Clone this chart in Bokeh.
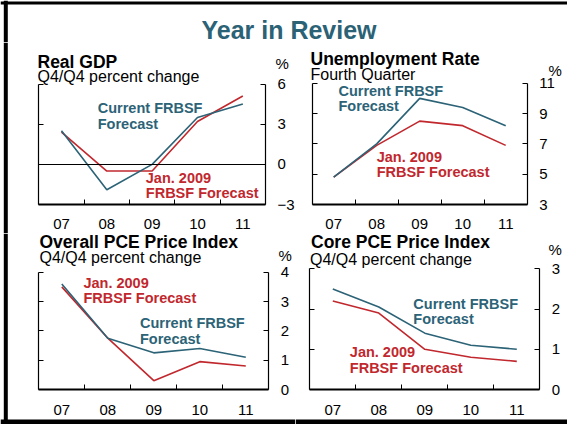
from bokeh.plotting import figure
from bokeh.layouts import column, row
from bokeh.models import LinearAxis, FixedTicker, Range1d, Label, BoxAnnotation
from bokeh.embed import file_html
from bokeh.resources import INLINE

# ---------------- data ----------------
years = ["07", "08", "09", "10", "11"]

gdp_current = [2.5, -1.9, 0.0, 3.5, 4.5]
gdp_jan2009 = [2.4, -0.5, -0.5, 3.2, 5.1]
gdp_ticks = [-3, 0, 3, 6]

unemp_current = [4.8, 7.0, 10.0, 9.4, 8.2]
unemp_jan2009 = [4.8, 6.9, 8.5, 8.2, 6.9]
unemp_ticks = [3, 5, 7, 9, 11]

pce_current = [3.6, 1.75, 1.25, 1.4, 1.1]
pce_jan2009 = [3.5, 1.75, 0.3, 0.95, 0.8]
pce_ticks = [0, 1, 2, 3, 4]

core_current = [2.5, 2.05, 1.4, 1.1, 1.0]
core_jan2009 = [2.2, 1.9, 1.0, 0.8, 0.7]
core_ticks = [0, 1, 2, 3]

CUR = ["Current FRBSF", "Forecast"]
JAN = ["Jan. 2009", "FRBSF Forecast"]

TEAL = "#2c6377"
RED = "#c1282e"
TITLE_C = "#2b6275"
FONT = "Liberation Sans"
LIFT = 0.32  # em; compensates the label baseline placement


def base_fig(W, H, xr, yr):
    p = figure(width=W, height=H, toolbar_location=None, output_backend="svg",
               min_border=0, x_axis_type=None, y_axis_type=None,
               x_range=Range1d(*xr), y_range=Range1d(*yr),
               outline_line_color=None, background_fill_color="white",
               border_fill_color="white")
    return p


def label(p, x, y, sy, text, size, color="black", bold=False, align="left"):
    y = y + LIFT * size / sy
    p.add_layout(Label(x=x, y=y, text=text, text_font=FONT, text_font_size=f"{size}px",
                       text_color=color, text_font_style="bold" if bold else "normal",
                       text_baseline="alphabetic", text_align=align))


def black_box(p, **kw):
    p.add_layout(BoxAnnotation(fill_color="black", fill_alpha=1, line_color=None, **kw))


def panel(origin, size, box, ticks, cur, jan, title, sub, tpos, spos, ppos,
          cur_pos, jan_pos, xstand, left_bar=False, bottom_bar=False, zero=False):
    ox, oy = origin
    W, H = size
    L, R, T, B = box[0] - ox, box[1] - ox, box[2] - oy, box[3] - oy
    n = len(years)
    xs = [i + 1 for i in range(n)]
    sx = (R - L) / n
    x0 = 0.5 - L / sx
    x1 = x0 + W / sx
    ymin, ymax = min(ticks), max(ticks)
    sy = (B - T) / (ymax - ymin)
    y1 = ymax + T / sy
    y0 = y1 - H / sy

    def X(gx):
        return x0 + (gx - ox) / sx

    def Y(gy):
        return y1 - (gy - oy) / sy

    p = base_fig(W, H, (x0, x1), (y0, y1))

    xa = LinearAxis(fixed_location=ymin, bounds=(0.5, n + 0.5),
                    ticker=FixedTicker(ticks=xs, minor_ticks=[x + 0.5 for x in xs[:-1]]),
                    major_label_overrides={x: y for x, y in zip(xs, years)},
                    major_tick_in=0, major_tick_out=0, major_tick_line_color=None,
                    minor_tick_in=5, minor_tick_out=0, minor_tick_line_color="black",
                    axis_line_width=2, axis_line_color="black",
                    major_label_standoff=xstand, major_label_text_font=FONT,
                    major_label_text_font_size="15px", major_label_text_color="black")
    p.add_layout(xa, "below")

    ya = LinearAxis(fixed_location=n + 0.5, bounds=(ymin, ymax),
                    ticker=FixedTicker(ticks=ticks), major_tick_in=5, major_tick_out=0,
                    minor_tick_line_color=None, axis_line_color="black", axis_line_width=1.2,
                    major_tick_line_color="black", major_label_standoff=12,
                    major_label_text_font=FONT, major_label_text_font_size="15px",
                    major_label_text_color="black")
    p.add_layout(ya, "right")

    la = LinearAxis(fixed_location=0.5, bounds=(ymin, ymax),
                    ticker=FixedTicker(ticks=ticks), major_tick_in=5, major_tick_out=0,
                    minor_tick_line_color=None, axis_line_color="black", axis_line_width=1.2,
                    major_tick_line_color="black", major_label_text_color=None,
                    major_label_standoff=0)
    p.add_layout(la, "left")

    if zero:
        za = LinearAxis(fixed_location=0, bounds=(0.5, n + 0.5), ticker=FixedTicker(ticks=[]),
                        major_tick_line_color=None, minor_tick_line_color=None,
                        axis_line_color="black", axis_line_width=1,
                        major_label_text_color=None)
        p.add_layout(za, "below")

    p.line(xs, jan, line_color=RED, line_width=1.6)
    p.line(xs, cur, line_color=TEAL, line_width=1.6)

    label(p, X(tpos[0]), Y(tpos[1]), sy, title, 17.5, bold=True)
    label(p, X(spos[0]), Y(spos[1]), sy, sub, 16)
    label(p, X(ppos[0]), Y(ppos[1]), sy, "%", 15)

    for (x, y), t in zip(cur_pos, CUR):
        label(p, x, y, sy, t, 14.5, color=TEAL, bold=True)
    for (x, y), t in zip(jan_pos, JAN):
        label(p, x, y, sy, t, 14.5, color=RED, bold=True)

    if left_bar:
        black_box(p, left=X(3.3), right=X(7.3))
    if bottom_bar:
        black_box(p, top=Y(419))
    return p


SPLIT = 295
p1 = panel((0, 42), (SPLIT, 191), (38.3, 265, 83.5, 204), gdp_ticks, gdp_current, gdp_jan2009,
           "Real GDP", "Q4/Q4 percent change", (37, 66.7), (37, 81.5), (275, 67.5),
           [(1.80, 3.84), (1.80, 2.66)], [(2.86, -1.40), (2.86, -2.50)], 14,
           left_bar=True, zero=True)

p2 = panel((SPLIT, 42), (567 - SPLIT, 191), (311.7, 526.7, 82.7, 204), unemp_ticks,
           unemp_current, unemp_jan2009, "Unemployment Rate", "Fourth Quarter", (310, 64),
           (310, 79), (548, 75), [(1.11, 10.21), (1.11, 9.21)], [(2.00, 5.80), (2.00, 4.81)], 14)

p3 = panel((0, 233), (SPLIT, 191), (38.3, 268.3, 271.7, 389), pce_ticks, pce_current,
           pce_jan2009, "Overall PCE Price Index", "Q4/Q4 percent change", (39, 246.8),
           (39, 262.5), (278, 260), [(2.70, 2.10), (2.70, 1.56)], [(1.47, 3.46), (1.47, 2.96)],
           15, left_bar=True, bottom_bar=True)

p4 = panel((SPLIT, 233), (567 - SPLIT, 191), (309.3, 539.3, 268.3, 389), core_ticks,
           core_current, core_jan2009, "Core PCE Price Index", "Q4/Q4 percent change",
           (310.5, 246.8), (309.5, 264), (548, 254), [(2.75, 2.02), (2.75, 1.63)],
           [(1.37, 0.82), (1.37, 0.43)], 15, bottom_bar=True)

# title strip: data units equal pixels, y measured upward from its bottom edge
TW, TH = 567, 42
tf = base_fig(TW, TH, (0, TW), (0, TH))
label(tf, 288.5, TH - 37, 1, "Year in Review", 25, color=TITLE_C, bold=True, align="center")
black_box(tf, left=3.3, right=7.3)
black_box(tf, bottom=TH - 4, top=TH - 1)

layout = column(tf, row(p1, p2), row(p3, p4))

open("out.html", "w").write(file_html(layout, INLINE))
